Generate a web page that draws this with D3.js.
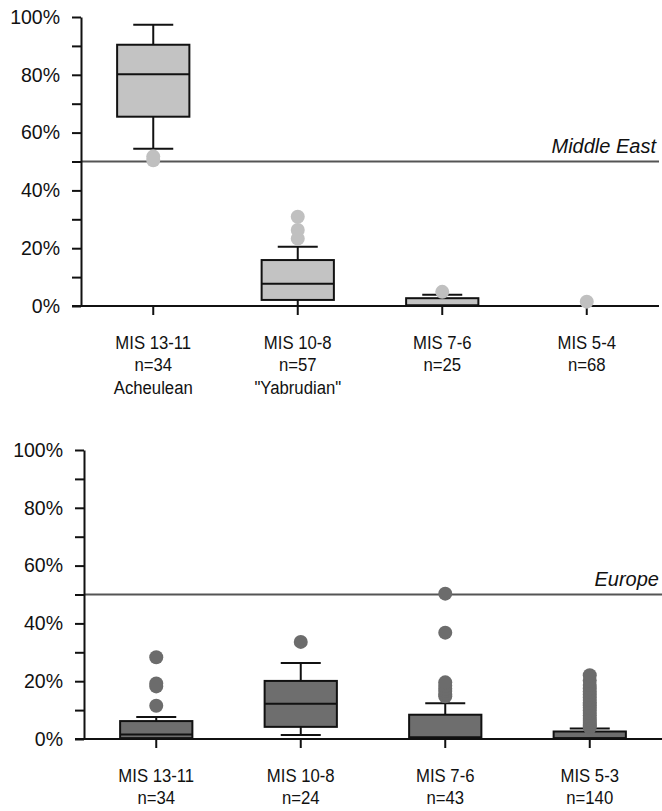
<!DOCTYPE html>
<html lang="en">
<head>
    <meta charset="UTF-8">
    <title>Box plots Middle East / Europe</title>
    <script src="https://d3js.org/d3.v7.min.js"></script>
    <style>
        body{ margin:0; background:#fff; }
        .axis text{ font-family:"Liberation Sans", Arial, sans-serif; font-size:19.5px; fill:#111; }
        .axis path, .axis line{ stroke:#111; stroke-width:2; }
        .cat{ font-family:"Liberation Sans", Arial, sans-serif; font-size:19px; fill:#111; }
        .region{ font-family:"Liberation Sans", Arial, sans-serif; font-size:20px; font-style:italic; fill:#111; }
    </style>
</head>
<body>
<script>
    // Middle East (upper panel), values in %
    const meLabels = [["MIS 13-11","n=34","Acheulean"],["MIS 10-8","n=57","\"Yabrudian\""],["MIS 7-6","n=25"],["MIS 5-4","n=68"]];
    const meLow  = [54.4, 0,   0,   0];
    const meQ1   = [65.5, 2.1, 0,   0];
    const meMed  = [80.2, 7.7, 0.3, 0];
    const meQ3   = [90.4, 15.9, 2.7, 0];
    const meHigh = [97.3, 20.5, 3.9, 0];
    const meOut  = [[51.7, 50.4], [23.3, 26.3, 30.9], [4.9], [1.5]];

    // Europe (lower panel)
    const euLabels = [["MIS 13-11","n=34"],["MIS 10-8","n=24"],["MIS 7-6","n=43"],["MIS 5-3","n=140"]];
    const euLow  = [0,   1.4,  0,   0];
    const euQ1   = [0.3, 4.2,  0,   0.2];
    const euMed  = [1.6, 12.2, 0.6, 0.3];
    const euQ3   = [6.2, 20.1, 8.4, 2.6];
    const euHigh = [7.6, 26.3, 12.4, 3.6];
    const euOut  = [[11.5, 18.2, 19.2, 28.3], [33.6],
        [14.8, 15.6, 16.6, 17.4, 18.4, 19.6, 36.8, 50.3],
        [4.0, 4.6, 5.2, 5.9, 6.6, 7.3, 8.1, 9.0, 9.9, 10.8, 11.7, 12.6, 13.5, 14.4, 15.4, 16.4, 17.5, 18.7, 20.2, 22.1]];

    const yTicks = d3.range(0, 101, 10);
    const width = 662, height = 811;

    const svg = d3.select("body").append("svg")
        .attr("width", width).attr("height", height)

    function drawPanel(cfg){
        const g = svg.append("g")

        const y = d3.scaleLinear().domain([0, 100]).range([cfg.bottom, cfg.top])
        const x = d3.scaleBand().domain(d3.range(cfg.labels.length)).range([cfg.left, cfg.right])
        const bw = x.bandwidth() * 0.5
        const cap = 40

        // 50% reference line
        g.append("line")
            .attr("x1", cfg.left).attr("x2", cfg.right)
            .attr("y1", y(50)).attr("y2", y(50))
            .attr("stroke", "#555").attr("stroke-width", 2)

        g.append("text").attr("class", "region")
            .attr("x", cfg.right - 3).attr("y", y(50) - 9)
            .attr("text-anchor", "end")
            .text(cfg.name)

        // axes
        g.append("g").attr("class", "axis")
            .attr("transform", `translate(${cfg.left},0)`)
            .call(d3.axisLeft(y).tickValues(yTicks).tickSize(9).tickSizeOuter(0).tickPadding(12)
                .tickFormat(d => d % 20 === 0 ? d + "%" : ""))

        const xa = g.append("g").attr("class", "axis")
            .attr("transform", `translate(0,${y(0)})`)
            .call(d3.axisBottom(x).tickSize(9).tickSizeOuter(0).tickFormat(""))
        xa.select(".domain").attr("d", `M${cfg.left - 9},0H${cfg.right}`)

        const boxes = g.append("g").selectAll("g")
            .data(cfg.labels.map((l, i) => i))
            .join("g")
            .attr("transform", i => `translate(${x(i) + x.bandwidth() / 2},0)`)

        // whiskers
        boxes.append("line")
            .attr("y1", i => y(cfg.q3[i])).attr("y2", i => y(cfg.high[i]))
            .attr("stroke", "#111").attr("stroke-width", 2)
        boxes.append("line")
            .attr("y1", i => y(cfg.q1[i])).attr("y2", i => y(cfg.low[i]))
            .attr("stroke", "#111").attr("stroke-width", 2)
        boxes.filter(i => cfg.high[i] > cfg.q3[i]).append("line")
            .attr("x1", -cap / 2).attr("x2", cap / 2)
            .attr("y1", i => y(cfg.high[i])).attr("y2", i => y(cfg.high[i]))
            .attr("stroke", "#111").attr("stroke-width", 2)
        boxes.filter(i => cfg.low[i] < cfg.q1[i]).append("line")
            .attr("x1", -cap / 2).attr("x2", cap / 2)
            .attr("y1", i => y(cfg.low[i])).attr("y2", i => y(cfg.low[i]))
            .attr("stroke", "#111").attr("stroke-width", 2)

        // box + median
        boxes.filter(i => cfg.q3[i] > cfg.q1[i]).append("rect")
            .attr("x", -bw / 2).attr("width", bw)
            .attr("y", i => y(cfg.q3[i]))
            .attr("height", i => y(cfg.q1[i]) - y(cfg.q3[i]))
            .attr("fill", cfg.fill).attr("stroke", "#111").attr("stroke-width", 2)
        boxes.filter(i => cfg.q3[i] > cfg.q1[i]).append("line")
            .attr("x1", -bw / 2).attr("x2", bw / 2)
            .attr("y1", i => y(cfg.med[i])).attr("y2", i => y(cfg.med[i]))
            .attr("stroke", "#111").attr("stroke-width", 2)

        // outliers
        boxes.selectAll("circle")
            .data(i => cfg.out[i])
            .join("circle")
            .attr("cy", d => y(d)).attr("r", 7)
            .attr("fill", cfg.dot)

        // category labels (slightly condensed like the original)
        const lab = g.append("g").selectAll("text")
            .data(cfg.labels)
            .join("text")
            .attr("class", "cat")
            .attr("text-anchor", "middle")
            .attr("transform", (d, i) => `translate(${x(i) + x.bandwidth() / 2},${cfg.bottom + cfg.labelGap}) scale(0.88,1)`)
        lab.selectAll("tspan")
            .data(d => d)
            .join("tspan")
            .attr("x", 0)
            .attr("dy", (d, j) => j === 0 ? 0 : 22.5)
            .text(d => d)
    }

    drawPanel({
        name: "Middle East", labels: meLabels,
        low: meLow, q1: meQ1, med: meMed, q3: meQ3, high: meHigh, out: meOut,
        top: 17, bottom: 306, left: 81, right: 659, labelGap: 43,
        fill: "#c3c3c3", dot: "#c0c0c0"
    })

    drawPanel({
        name: "Europe", labels: euLabels,
        low: euLow, q1: euQ1, med: euMed, q3: euQ3, high: euHigh, out: euOut,
        top: 450, bottom: 739, left: 84, right: 662, labelGap: 43,
        fill: "#6e6e6e", dot: "#6c6c6c"
    })
</script>
</body>
</html>
